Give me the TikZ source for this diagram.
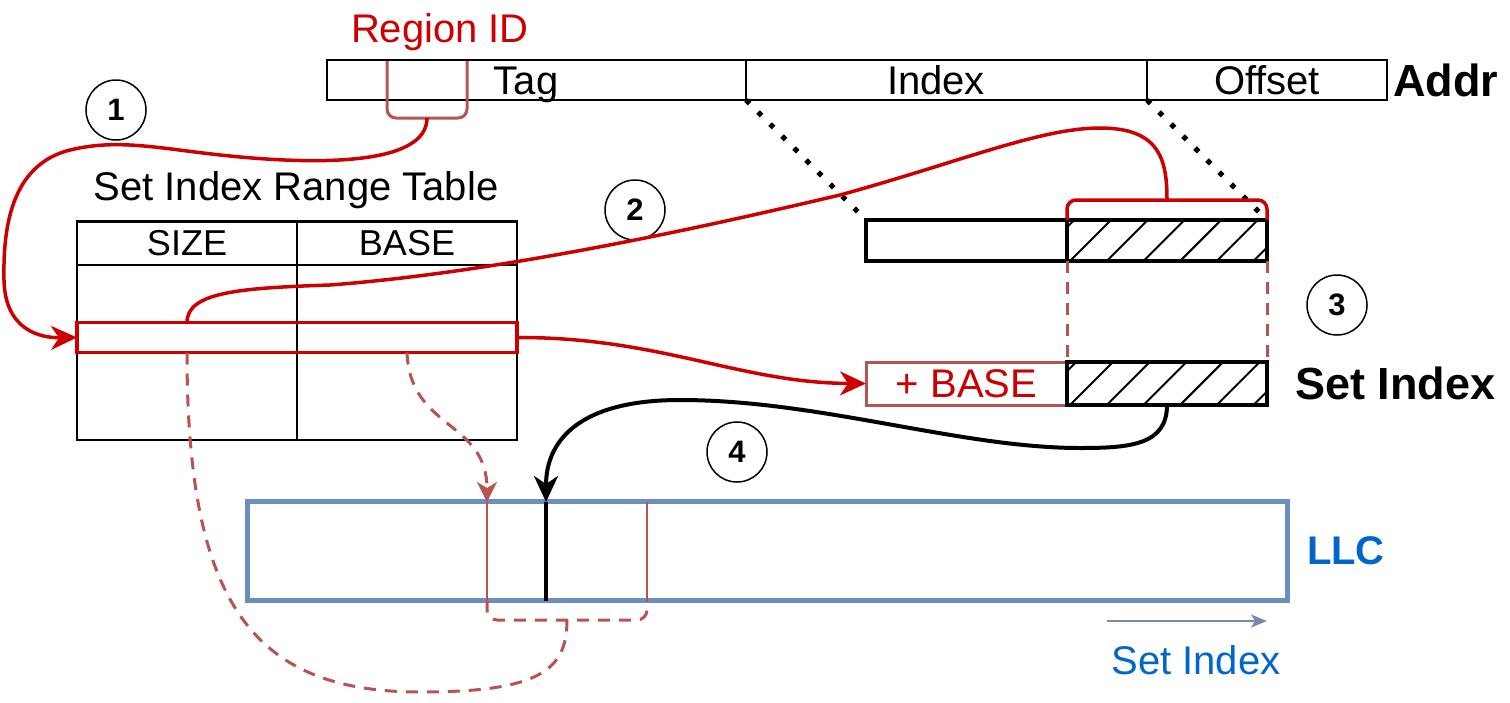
\documentclass[tikz,border=0pt]{standalone}
\usepackage{fontspec}
\setmainfont{Liberation Sans}
\usetikzlibrary{positioning,arrows.meta}
\definecolor{linkred}{RGB}{204,0,0}
\definecolor{dullred}{RGB}{184,84,80}
\definecolor{llcblue}{RGB}{108,142,191}
\definecolor{textblue}{RGB}{0,102,204}
\definecolor{arrowgray}{RGB}{120,140,170}

\begin{document}
\begin{tikzpicture}[x=1pt,y=-1pt, every node/.style={font=\fontsize{40}{46}\selectfont, inner sep=0pt, outer sep=0pt},
    fieldbox/.style={draw, line width=1.8pt, minimum height=40pt},
    cellbox/.style={draw, line width=2pt, minimum width=220pt, minimum height=43pt, font=\fontsize{36}{40}\selectfont},
    bitbox/.style={draw, line width=3.5pt, minimum width=200pt, minimum height=41pt},
    hatched/.style={bitbox, path picture={
      \foreach \k in {-1,0,...,5}
        \draw[line width=2pt] ([xshift=\k*36.7pt+3pt]path picture bounding box.south west) -- ++(42,-42);}},
    numcirc/.style={draw, circle, line width=1.5pt, minimum size=60pt, font=\bfseries\fontsize{31}{31}\selectfont},
    redline/.style={linkred, line width=3.5pt},
    redarrow/.style={redline, -{Stealth[length=26pt, width=24pt, inset=8pt]}},
    dashline/.style={dullred, line width=3pt, dash pattern=on 12pt off 9pt},
    dotline/.style={line width=5pt, dash pattern=on 5pt off 12pt}]
  \useasboundingbox (0,0) rectangle (1510,702);

  % address
  \node[fieldbox, minimum width=419pt] (tagf) at (536.5,80) {};
  \node[fieldbox, minimum width=401pt] (indexf) at (946.5,80) {};
  \node[fieldbox, minimum width=240pt] (offsetf) at (1267,80) {};
  \node[anchor=base] (tagtext) at (526,94) {Tag};
  \node[anchor=base] (idxtext) at (936,94) {Index};
  \node[anchor=base] (offtext) at (1267,94) {Offset};
  \node[font=\bfseries\fontsize{45}{50}\selectfont, right=6pt of offsetf] (addr) {Addr};
  \node[text=linkred] (ridtext) at (440,32) {Region ID};
  \coordinate (ridL) at (387,61);
  \coordinate (ridR) at (467,61);
  \coordinate (ridtip) at (427,118);
  \draw[dullred, line width=3pt, rounded corners=9pt] (ridL) -- (387,118) -- (467,118) -- (ridR);

  % range table
  \node (title) at (296,190) {Set Index Range Table};
  \node[draw, line width=2pt, minimum width=440pt, minimum height=219pt] (sirt) at (297,330.5) {};
  \node[cellbox] (size) at (187,243) {SIZE};
  \node[cellbox] (base) at (407,243) {BASE};
  \draw[line width=2pt] (size.south east) -- (size.south east |- sirt.south);
  \node[draw=linkred, line width=3.5pt, minimum width=440pt, minimum height=30pt] (row) at (297,337.5) {};

  % set index bits
  \node[bitbox, minimum width=201pt] (idxbits) at (966.5,240.5) {};
  \node[hatched] (offbits) at (1167,240.5) {};
  \node[draw=dullred, line width=3pt, minimum width=201pt, minimum height=43pt, text=linkred] (addbase) at (966.5,383.5) {+ BASE};
  \node[hatched, minimum height=43pt] (setidx) at (1167,383.5) {};
  \node[font=\bfseries\fontsize{45}{50}\selectfont, right=28pt of setidx] (silabel) {Set Index};
  \draw[dotline] (tagf.south east) -- (idxbits.north west);
  \draw[dotline] (offsetf.south west) -- (offbits.north east);
  \draw[dashline] (offbits.south west) -- (setidx.north west);
  \draw[dashline] (offbits.south east) -- (setidx.north east);
  \coordinate (offtip) at (1167,200);
  \draw[redline, rounded corners=9pt] (offbits.north west) -- (1067,200) -- (1267,200) -- (offbits.north east);

  % LLC
  \node[draw=llcblue, line width=5pt, minimum width=1040pt, minimum height=99pt] (llc) at (767,551) {};
  \node[font=\bfseries\fontsize{40}{44}\selectfont, text=textblue, right=20pt of llc] (llclabel) {LLC};
  \coordinate (lo) at (487,502);
  \coordinate (hi) at (647,502);
  \coordinate (mark) at (546,502);
  \coordinate (lowtip) at (567,620);
  \draw[dullred, line width=2pt] (lo) -- (lo |- llc.south);
  \draw[dullred, line width=2pt] (hi) -- (hi |- llc.south);
  \draw[line width=4.5pt] (mark) -- (mark |- llc.south);
  \coordinate (sistart) at (1107,621);
  \coordinate (siend) at (1267,621);
  \draw[arrowgray, line width=2pt, -{Stealth[length=16pt, width=13pt, inset=4pt]}] (sistart) -- (siend);
  \node[text=textblue] (sitext) at (1196,660) {Set Index};

  % steps
  \node[numcirc] (c1) at (116,110) {1};
  \node[numcirc] (c2) at (635,210) {2};
  \node[numcirc] (c3) at (1337,305) {3};
  \node[numcirc] (c4) at (737,452) {4};

  \draw[redarrow] (ridtip) .. controls (427,165) and (320,165) .. (230,156)
    .. controls (160,149) and (120,138) .. (70,150)
    .. controls (10,165) and (3,230) .. (4,280)
    .. controls (5,330) and (40,338) .. (row.west);
  \draw[redline] ([xshift=-110pt]row.north) .. controls (187,292) and (240,288) .. (330,285)
    .. controls (500,272) and (700,228) .. (840,195)
    .. controls (960,162) and (1040,128) .. (1100,128)
    .. controls (1160,128) and (1167,160) .. (offtip);
  \draw[redarrow] (row.east) .. controls (660,337) and (740,383) .. (addbase.west);
  \draw[line width=4pt, -{Stealth[length=26pt, width=24pt, inset=8pt]}] (setidx.south)
    .. controls (1167,445) and (1130,448) .. (1080,448)
    .. controls (960,448) and (820,400) .. (680,400)
    .. controls (580,400) and (546,440) .. (mark);
  \draw[dashline, -{Stealth[length=20pt, width=20pt, inset=6pt]}] ([xshift=110pt]row.south)
    .. controls (410,430) and (487,420) .. (lo);
  \draw[dashline, rounded corners=10pt] (lo |- llc.south) -- (487,620) -- (647,620) -- (hi |- llc.south);
  \draw[dashline] ([xshift=-110pt]row.south) .. controls (187,600) and (250,692) .. (420,692)
    .. controls (540,692) and (567,670) .. (lowtip);
\end{tikzpicture}
\end{document}
